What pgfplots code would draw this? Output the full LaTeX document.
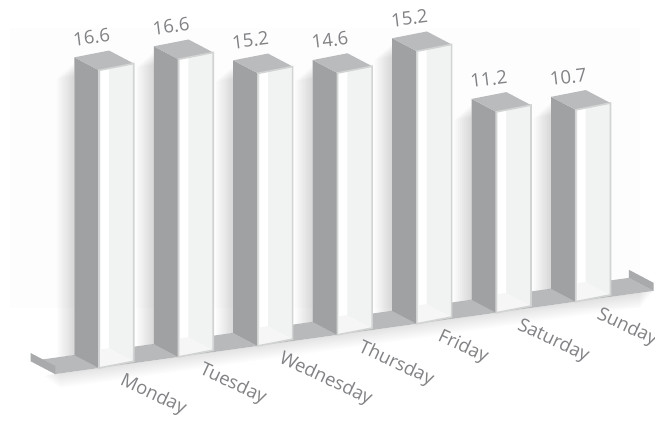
\documentclass[border=0pt]{standalone}
\usepackage{pgfplots}
\pgfplotsset{compat=1.18}
\usepackage{fontspec}
\setmainfont{Open Sans}
\definecolor{sidegrey}{HTML}{A0A1A3}
\definecolor{topgrey}{HTML}{BABBBD}
\definecolor{floorgrey}{HTML}{B8B9BB}
\definecolor{lipgrey}{HTML}{A9AAAC}
\definecolor{panel}{HTML}{F1F3F2}
\definecolor{innerfloor}{HTML}{F5F6F5}
\definecolor{frame}{HTML}{D2D4D4}
\definecolor{labeltext}{HTML}{808285}
\definecolor{haze}{HTML}{FDFDFD}

% One column: #1 = position along the row, #2 = value, #3 = day name
\newcommand{\drawbar}[3]{%
  \pgfmathsetmacro\xR{#1+0.475}%
  \pgfmathsetmacro\xLi{#1+0.022}%
  \pgfmathsetmacro\xS{#1+0.125}%
  \pgfmathsetmacro\xF{#1+0.366}%
  % soft shadow falling on the wall to the left of the column
  \pgfplotsforeachungrouped \k in {1,...,9}{%
    \pgfmathsetmacro\xs{#1-\k*0.024}%
    \pgfmathsetmacro\zs{#2-0.3-\k*0.08}%
    \addplot3[draw=none,fill=black,fill opacity=0.017,forget plot]
      coordinates {(\xs,1,0) (#1,1,0) (#1,1,\zs) (\xs,1,\zs)};
  }%
  % left side
  \addplot3[draw=none,fill=sidegrey,forget plot]
    coordinates {(#1,0,0) (#1,1,0) (#1,1,#2) (#1,0,#2)};
  % top
  \addplot3[draw=none,fill=topgrey,forget plot]
    coordinates {(#1,0,#2) (#1,1,#2) (\xR,1.12,#2) (\xR,0.12,#2)};
  % front panel, lit strip and inner floor
  \addplot3[draw=none,fill=panel,forget plot]
    coordinates {(#1,0,0) (\xR,0.12,0) (\xR,0.12,#2) (#1,0,#2)};
  \addplot3[draw=none,fill=white,forget plot]
    coordinates {(\xLi,0,0) (\xS,0,0) (\xS,0,#2) (\xLi,0,#2)};
  \addplot3[draw=none,fill=innerfloor,forget plot]
    coordinates {(\xLi,0,0) (\xR,0.12,0) (\xR,1.12,0) (\xF,1.11,0)};
  % frame of the front
  \addplot3[draw=frame,line width=1.6pt,line join=miter,forget plot]
    coordinates {(#1,0,0) (\xR,0.12,0) (\xR,0.12,#2) (#1,0,#2) (#1,0,0) (\xR,0.12,0)};
  % value and day labels
  \node[rotate=7,text=labeltext,font=\fontsize{18.5}{20}\selectfont]
    at (axis cs:#1,0.3,#2+1.62) {#2};
  \node[rotate=-25,anchor=west,inner sep=0pt,text=labeltext,font=\fontsize{18.5}{20}\selectfont]
    at (axis cs:#1,-0.9,-0.02) {#3};
}

\begin{document}
\begin{tikzpicture}
\useasboundingbox (-99pt,-52pt) rectangle (556pt,368pt);
\fill[white] (-99pt,-52pt) rectangle (556pt,368pt);
\fill[haze] (-89pt,60pt) rectangle (541pt,340pt);
\begin{axis}[
  anchor=origin, at={(0pt,0pt)},
  x={(79.45pt,11.05pt)}, y={(-24.7pt,13pt)}, z={(0pt,17.93pt)},
  xmin=-1, xmax=7.5, ymin=-2, ymax=2, zmin=-3, zmax=20,
  hide axis, clip=false,
]
% soft shadow under the floor, tapering towards both ends
\pgfplotsforeachungrouped \k in {1,...,9}{%
  \pgfmathsetmacro\zs{-0.09*\k}%
  \pgfmathsetmacro\xa{-0.72+0.025*\k}%
  \pgfmathsetmacro\xb{7.0-0.02*\k}%
  \addplot3[draw=none,fill=black,fill opacity=0.012,forget plot]
    coordinates {(\xa,0,0) (\xb,0,0) (\xb,0,\zs) (\xa,0,\zs)};
}
% floor strip
\addplot3[draw=none,fill=floorgrey,forget plot]
  coordinates {(-0.55,0,0) (6.98,0,0) (6.98,1,0) (-0.55,1,0)};
% raised lips at both ends
\addplot3[draw=none,fill=lipgrey,forget plot]
  coordinates {(-0.55,0,0) (-0.55,1,0) (-0.55,1,0.45) (-0.55,0,0.45)};
\addplot3[draw=none,fill=lipgrey,forget plot]
  coordinates {(6.98,0,0) (6.98,1,0) (6.98,1,0.45) (6.98,0,0.45)};
\drawbar{0}{16.6}{Monday}
\drawbar{1}{16.6}{Tuesday}
\drawbar{2}{15.2}{Wednesday}
\drawbar{3}{14.6}{Thursday}
\drawbar{4}{15.2}{Friday}
\drawbar{5}{11.2}{Saturday}
\drawbar{6}{10.7}{Sunday}
\end{axis}
\end{tikzpicture}
\end{document}
